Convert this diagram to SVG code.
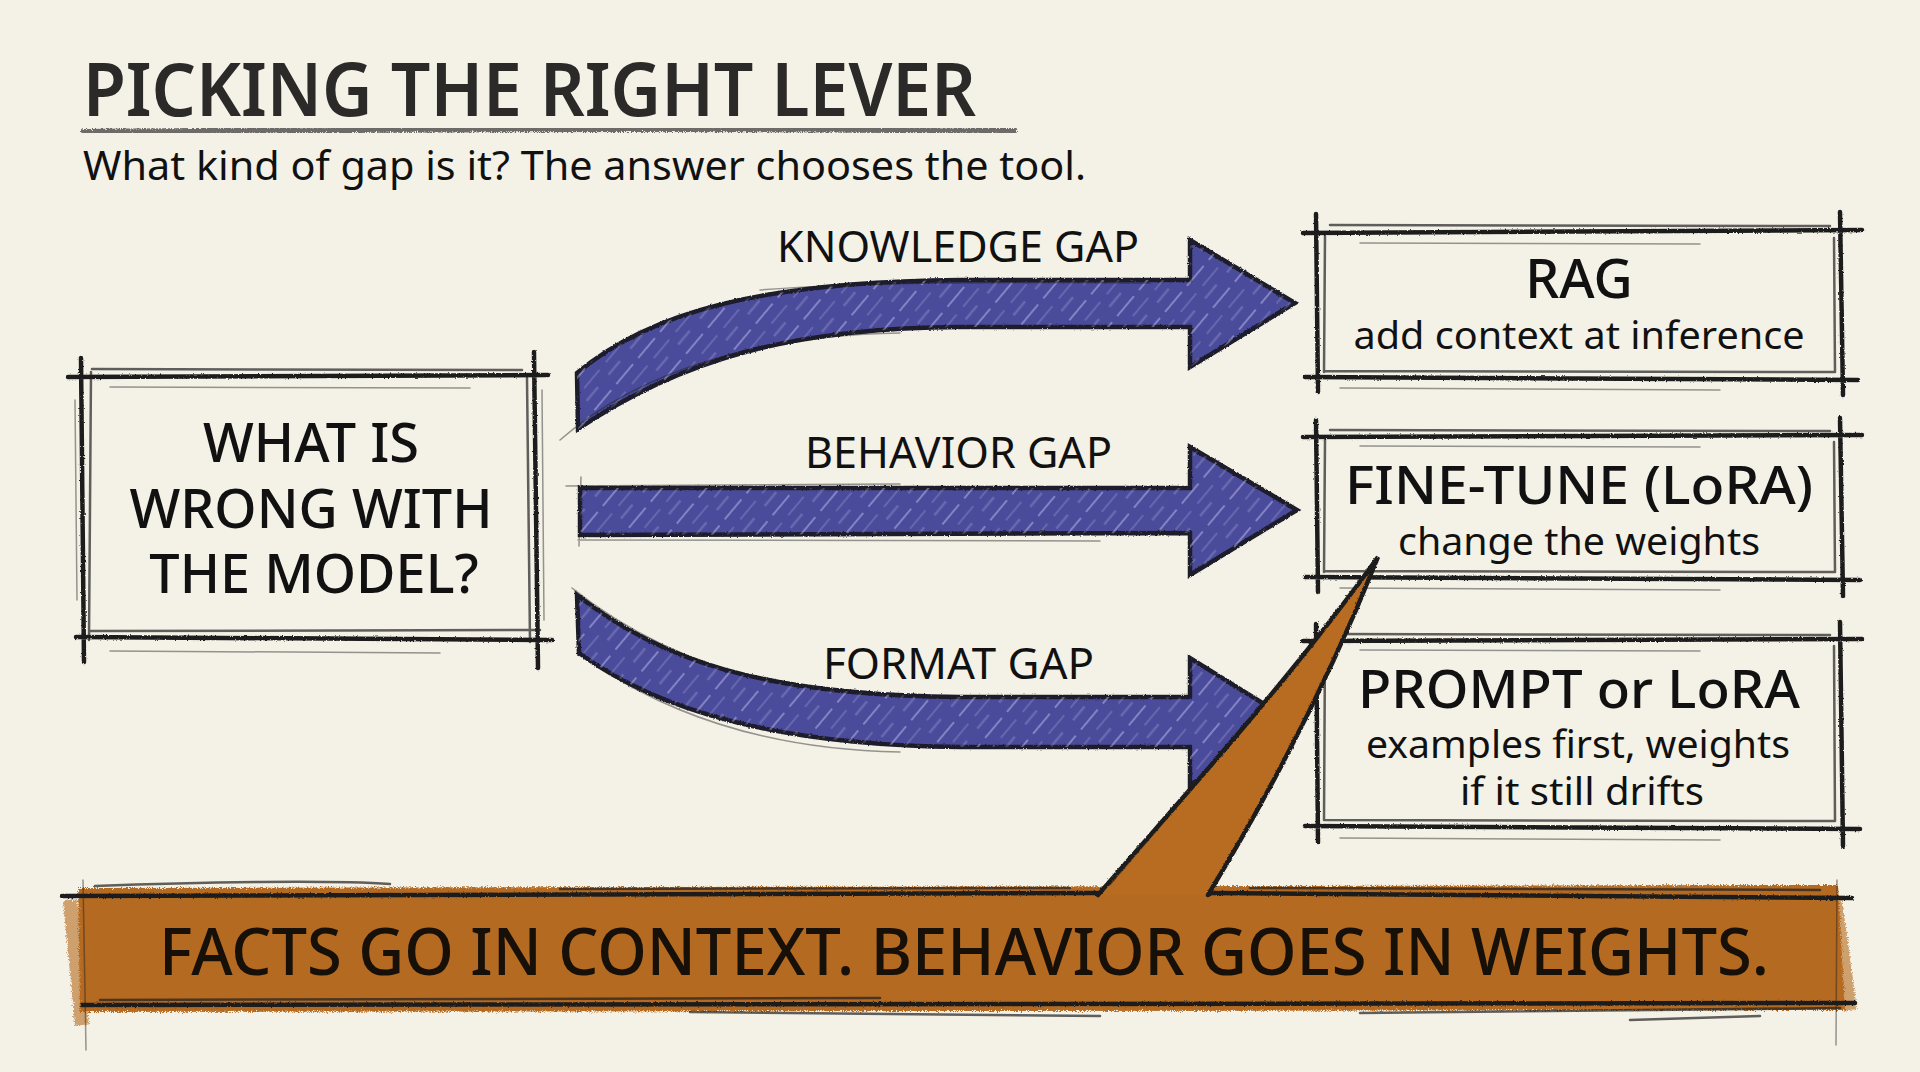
<svg xmlns="http://www.w3.org/2000/svg" width="1920" height="1072" viewBox="0 0 1920 1072">
<defs>
<filter id="rough" x="-5%" y="-5%" width="110%" height="110%">
<feTurbulence type="fractalNoise" baseFrequency="0.6" numOctaves="2" seed="3" result="n"/>
<feDisplacementMap in="SourceGraphic" in2="n" scale="2.5" xChannelSelector="R" yChannelSelector="G"/>
</filter>
<filter id="grain" x="-2%" y="-10%" width="104%" height="120%">
<feTurbulence type="fractalNoise" baseFrequency="1.2" numOctaves="2" seed="7" result="n"/>
<feDisplacementMap in="SourceGraphic" in2="n" scale="6" xChannelSelector="R" yChannelSelector="G"/>
</filter>
<pattern id="hatch" width="34" height="34" patternUnits="userSpaceOnUse" patternTransform="rotate(-50)">
<line x1="0" y1="5" x2="26" y2="5" stroke="#d8d8ff" stroke-width="2" stroke-opacity="0.4"/>
<line x1="10" y1="17" x2="34" y2="17" stroke="#e4e4ff" stroke-width="1.2" stroke-opacity="0.3"/>
<line x1="2" y1="27" x2="20" y2="27" stroke="#c8c8f0" stroke-width="2.4" stroke-opacity="0.25"/>
</pattern>
<style>
.bg{fill:#f4f1e7}
.pen{fill:none;stroke:#1f1f1f;stroke-linecap:round}
.w1{stroke-width:4.5;filter:url(#rough)}
.w2{stroke-width:2.5;stroke-opacity:.7}
.w3{stroke-width:1.5;stroke-opacity:.45}
.arrow{fill:#4b4b9c;stroke:#1c1c2c;stroke-width:4.5;stroke-linejoin:miter;filter:url(#rough)}
.hatch{fill:url(#hatch);stroke:none}
.t{font-family:"Noto Sans","Open Sans","DejaVu Sans",sans-serif;fill:#111}
.title{font-size:74px;font-weight:600;fill:#2b2a28}
.sub{font-size:40px}
.lbl{font-size:44px}
.big{font-size:54px;font-weight:500;text-anchor:middle}
.h{font-size:52px;font-weight:500;text-anchor:middle}
.s{font-size:38px;text-anchor:middle}
.banner{font-size:66px;font-weight:500;fill:#171008;text-anchor:middle}
</style>
</defs>
<rect class="bg" x="0" y="0" width="1920" height="1072"/>

<g id="title">
<text class="t title" x="83" y="116" textLength="893" lengthAdjust="spacingAndGlyphs">PICKING THE RIGHT LEVER</text>
<path d="M84 132 C 400 129, 750 128, 1014 131" fill="none" stroke="#4a4a48" stroke-width="6" stroke-linecap="round" stroke-opacity="0.8" filter="url(#grain)"/>
<text class="t sub" x="83" y="180" textLength="1003" lengthAdjust="spacingAndGlyphs">What kind of gap is it? The answer chooses the tool.</text>
</g>

<g id="connectors">
<g id="knowledge-arrow">
<path class="arrow" d="M577 373 C 650 312, 760 282, 960 280 L 1190 280 L 1190 240 L 1295 303 L 1190 367 L 1190 327 L 960 327 C 790 328, 680 360, 578 429 Z"/>
<path class="hatch" d="M577 373 C 650 312, 760 282, 960 280 L 1190 280 L 1190 240 L 1295 303 L 1190 367 L 1190 327 L 960 327 C 790 328, 680 360, 578 429 Z"/>
<path class="pen w3" d="M560 440 C 640 370, 760 335, 900 333 M760 290 C 860 282, 1000 282, 1150 283"/>
<text class="t lbl" x="777" y="262" textLength="362" lengthAdjust="spacingAndGlyphs">KNOWLEDGE GAP</text>
</g>
<g id="behavior-arrow">
<path class="arrow" d="M580 488 L 1190 488 L 1190 447 L 1297 510 L 1190 575 L 1190 533 L 580 535 Z"/>
<path class="hatch" d="M580 488 L 1190 488 L 1190 447 L 1297 510 L 1190 575 L 1190 533 L 580 535 Z"/>
<path class="pen w3" d="M566 486 L 900 484 M578 540 L 1100 541 M581 477 L 579 546"/>
<text class="t lbl" x="805" y="468" textLength="307" lengthAdjust="spacingAndGlyphs">BEHAVIOR GAP</text>
</g>
<g id="format-arrow">
<path class="arrow" d="M577 595 C 660 660, 760 695, 960 697 L 1190 697 L 1190 658 L 1293 722 L 1190 785 L 1190 747 L 960 747 C 780 745, 660 712, 579 653 Z"/>
<path class="hatch" d="M577 595 C 660 660, 760 695, 960 697 L 1190 697 L 1190 658 L 1293 722 L 1190 785 L 1190 747 L 960 747 C 780 745, 660 712, 579 653 Z"/>
<path class="pen w3" d="M572 588 C 650 650, 750 690, 880 694 M600 668 C 680 720, 780 750, 900 752"/>
<text class="t lbl" x="823" y="679" textLength="271" lengthAdjust="spacingAndGlyphs">FORMAT GAP</text>
</g>
</g>

<g id="node-question">
<path class="pen w1" d="M68 377 L 548 375 M76 637 L 552 640 M81 358 L 84 662 M534 352 L 538 668"/>
<path class="pen w2" d="M92 369 L 522 370 M90 631 L 540 630 M91 372 L 89 640 M527 378 L 530 642"/>
<path class="pen w3" d="M110 387 L 470 388 M110 651 L 440 653 M75 400 L 77 600 M542 390 L 544 620"/>
<text class="t big" x="311" y="462">WHAT IS</text>
<text class="t big" x="311" y="528">WRONG WITH</text>
<text class="t big" x="314" y="593">THE MODEL?</text>
</g>

<g id="node-rag">
<path class="pen w1" d="M1303 233 L 1862 230 M1305 377 L 1858 380 M1316 214 L 1318 392 M1840 212 L 1843 395"/>
<path class="pen w2" d="M1330 225 L 1830 226 M1325 371 L 1835 372 M1325 236 L 1324 372 M1834 238 L 1835 372"/>
<path class="pen w3" d="M1360 243 L 1700 244 M1340 388 L 1720 390"/>
<text class="t h" x="1579" y="298" style="font-size:54px">RAG</text>
<text class="t s" x="1579" y="349" textLength="451" lengthAdjust="spacingAndGlyphs">add context at inference</text>
</g>

<g id="node-finetune">
<path class="pen w1" d="M1303 437 L 1862 435 M1305 577 L 1860 580 M1316 420 L 1318 592 M1840 418 L 1843 596"/>
<path class="pen w2" d="M1330 430 L 1830 431 M1325 571 L 1835 572 M1325 440 L 1324 572 M1834 442 L 1835 572"/>
<path class="pen w3" d="M1360 446 L 1700 447 M1340 588 L 1720 590"/>
<text class="t h" x="1579" y="504" textLength="468" lengthAdjust="spacingAndGlyphs">FINE-TUNE (LoRA)</text>
<text class="t s" x="1579" y="555" textLength="362" lengthAdjust="spacingAndGlyphs">change the weights</text>
</g>

<g id="node-prompt">
<path class="pen w1" d="M1303 641 L 1862 639 M1305 826 L 1860 829 M1316 624 L 1318 842 M1840 622 L 1843 846"/>
<path class="pen w2" d="M1330 634 L 1830 635 M1325 820 L 1835 821 M1325 644 L 1324 820 M1834 646 L 1835 821"/>
<path class="pen w3" d="M1360 650 L 1700 651 M1340 838 L 1720 840"/>
<text class="t h" x="1579" y="708" textLength="442" lengthAdjust="spacingAndGlyphs">PROMPT or LoRA</text>
<text class="t s" x="1578" y="758" textLength="424" lengthAdjust="spacingAndGlyphs">examples first, weights</text>
<text class="t s" x="1582" y="805" textLength="244" lengthAdjust="spacingAndGlyphs">if it still drifts</text>
</g>

<g id="node-banner">
<path d="M78 888 L 1838 885 L 1845 1010 L 80 1012 Z" fill="#b56b22" filter="url(#grain)"/>
<path d="M70 900 L 82 1025 M1835 900 L 1850 1010" stroke="#b56b22" stroke-width="14" stroke-opacity="0.6" fill="none" filter="url(#grain)"/>
<path class="pen w1" d="M62 896 L 1098 893 M1208 893 L 1852 898 M82 1005 L 1855 1003"/>
<path class="pen w2" d="M95 886 C 200 882, 330 880, 390 884 M560 889 L 1070 888 M1250 888 L 1820 890 M690 1012 L 1100 1016 M1360 1013 L 1840 1008 M1630 1020 L 1760 1016 M100 1000 L 880 998"/>
<path class="pen w3" d="M83 880 L 86 1050 M1837 880 L 1836 1045"/>
<path id="callout-tail" d="M1098 895 C 1180 800, 1290 680, 1378 557 C 1345 640, 1290 760, 1208 895 Z" fill="#b86c22"/>
<path class="pen w1" d="M1098 895 C 1180 800, 1290 680, 1378 557 C 1345 640, 1290 760, 1208 895"/>
<path class="pen w3" d="M1110 885 C 1190 790, 1280 690, 1370 570"/>
<text class="t banner" x="964" y="975" textLength="1610" lengthAdjust="spacingAndGlyphs">FACTS GO IN CONTEXT. BEHAVIOR GOES IN WEIGHTS.</text>
</g>
</svg>
